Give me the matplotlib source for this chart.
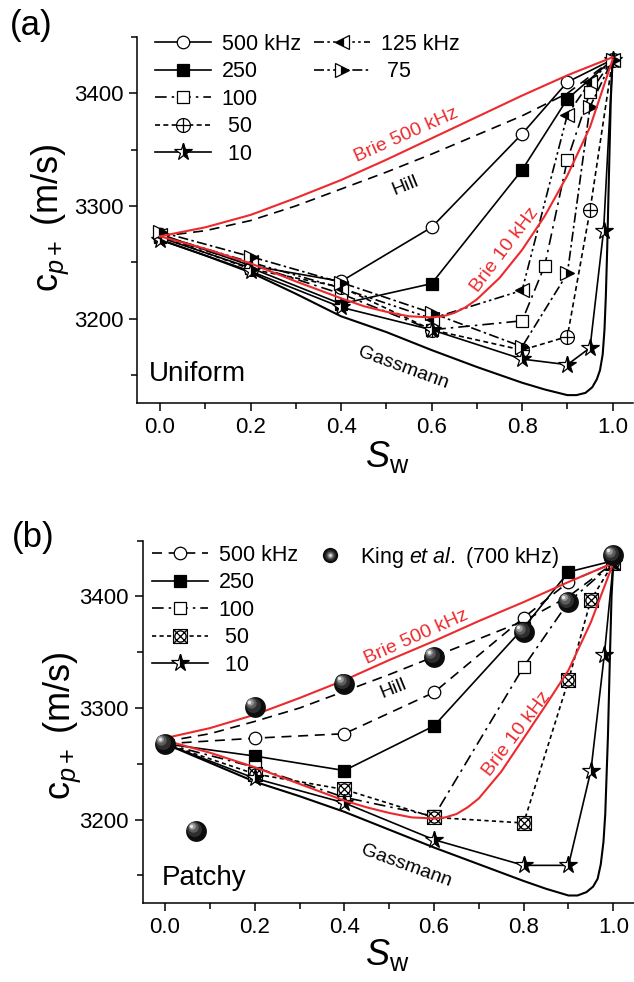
import matplotlib
matplotlib.use("Agg")
import matplotlib.pyplot as plt
from matplotlib.path import Path
from matplotlib.transforms import offset_copy
from matplotlib.ticker import MultipleLocator

plt.rcParams['font.family'] = ['Liberation Sans', 'DejaVu Sans']
plt.rcParams['mathtext.fontset'] = 'custom'
plt.rcParams['mathtext.rm'] = 'Liberation Sans'
plt.rcParams['mathtext.it'] = 'Liberation Sans:italic'
plt.rcParams['mathtext.bf'] = 'Liberation Sans:bold'

RED = '#ec2a2e'

# ---------------- (a) uniform saturation ----------------
a500_x = [0.0, 0.2, 0.4, 0.6, 0.8, 0.9, 1.0]
a500 = [3275, 3247, 3233, 3281, 3364, 3410, 3430]
a250_x = [0.0, 0.2, 0.4, 0.6, 0.8, 0.9, 1.0]
a250 = [3272, 3245, 3213, 3231, 3332, 3395, 3430]
a125_x = [0.0, 0.2, 0.4, 0.6, 0.8, 0.9, 0.95, 1.0]
a125 = [3274, 3250, 3227, 3200, 3225, 3381, 3410, 3430]
a75_x = [0.0, 0.2, 0.4, 0.6, 0.8, 0.9, 0.95, 1.0]
a75 = [3277, 3255, 3232, 3205, 3175, 3240, 3388, 3430]
a100_x = [0.0, 0.2, 0.4, 0.6, 0.8, 0.85, 0.9, 0.95, 1.0]
a100 = [3273, 3248, 3222, 3190, 3198, 3247, 3341, 3401, 3430]
a50_x = [0.0, 0.2, 0.4, 0.6, 0.8, 0.9, 0.95, 1.0]
a50 = [3273, 3244, 3228, 3190, 3172, 3184, 3296, 3430]
a10_x = [0.0, 0.2, 0.4, 0.6, 0.8, 0.9, 0.95, 0.98, 1.0]
a10 = [3270, 3242, 3210, 3190, 3164, 3159, 3174, 3278, 3430]

# model curves
curve_x = [0.0, 0.1, 0.2, 0.3, 0.4, 0.5, 0.6, 0.7, 0.8, 0.9, 1.0]
a_brie500 = [3273, 3281, 3292, 3307, 3323, 3341, 3360, 3379, 3398, 3416, 3432]
a_hill = [3273, 3278, 3287, 3300, 3315, 3330, 3346, 3363, 3380, 3400, 3430]
brie10_x = [0.0, 0.1, 0.2, 0.3, 0.4, 0.45, 0.5, 0.55, 0.6, 0.625, 0.65, 0.675, 0.7,
            0.75, 0.8, 0.85, 0.9, 0.95, 1.0]
a_brie10 = [3273, 3262, 3249, 3233, 3218, 3211, 3206, 3202, 3201, 3202, 3205, 3210, 3217,
            3236, 3261, 3291, 3327, 3370, 3430]
gass_x = [0.0, 0.1, 0.2, 0.3, 0.4, 0.5, 0.6, 0.7, 0.8, 0.85, 0.9, 0.92, 0.94, 0.955, 0.965,
          0.972, 0.978, 0.982, 0.985, 0.988, 0.992, 0.996, 1.0]
a_gass = [3270, 3256, 3241, 3222, 3202, 3188, 3172, 3157, 3143, 3137, 3132, 3132, 3134, 3139, 3146,
          3154, 3168, 3190, 3220, 3262, 3330, 3395, 3430]

# ---------------- (b) patchy saturation ----------------
b500_x = [0.0, 0.2, 0.4, 0.6, 0.8, 0.9, 1.0]
b500 = [3268, 3273, 3277, 3314, 3381, 3413, 3430]
b250_x = [0.0, 0.2, 0.4, 0.6, 0.8, 0.9, 1.0]
b250 = [3268, 3257, 3244, 3284, 3372, 3422, 3432]
b100_x = [0.0, 0.2, 0.4, 0.6, 0.8, 0.9, 1.0]
b100 = [3268, 3247, 3220, 3203, 3337, 3395, 3430]
b50_x = [0.0, 0.2, 0.4, 0.6, 0.8, 0.9, 0.95, 1.0]
b50 = [3268, 3241, 3227, 3202, 3197, 3325, 3397, 3430]
b10_x = [0.0, 0.2, 0.4, 0.6, 0.8, 0.9, 0.95, 0.98, 1.0]
b10 = [3268, 3237, 3215, 3182, 3159, 3159, 3244, 3348, 3430]
king_x = [0.0, 0.07, 0.2, 0.4, 0.6, 0.8, 0.9, 1.0]
king = [3268, 3190, 3301, 3322, 3346, 3368, 3395, 3437]

b_brie500 = [3273, 3282, 3294, 3309, 3325, 3343, 3360, 3378, 3395, 3413, 3430]
b_hill = [3270, 3277, 3288, 3300, 3315, 3330, 3346, 3362, 3378, 3400, 3430]
b_brie10 = [3271, 3260, 3247, 3232, 3217, 3211, 3206, 3202, 3201, 3202, 3205, 3211, 3219,
            3243, 3273, 3303, 3334, 3377, 3430]
b_gass = [3268, 3251, 3234, 3221, 3207, 3191, 3175, 3160, 3145, 3138, 3132, 3132, 3135, 3140, 3147,
          3160, 3180, 3205, 3240, 3275, 3340, 3400, 3430]

# ---------------- custom markers ----------------
M, L = Path.MOVETO, Path.LINETO
oplus = Path.make_compound_path(
    Path.circle((0, 0), 1.0),
    Path([(-1, 0), (1, 0), (0, -1), (0, 1)], [M, L, M, L]))
boxx = Path.make_compound_path(
    Path([(-1, -1), (1, -1), (1, 1), (-1, 1), (-1, -1)], [M, L, L, L, Path.CLOSEPOLY]),
    Path([(-1, -1), (1, 1), (-1, 1), (1, -1)], [M, L, M, L]),
    Path.circle((0, 0), 0.8))

lw = 1.2
common = dict(color='k', lw=lw, mew=0.9, mec='k')


def star(ax, x, y, ls):
    return ax.plot(x, y, ls=ls, marker='*', ms=13, mfc='k', fillstyle='right',
                   markerfacecoloralt='white', **common)[0]


def balls(ax, x, y, ms=15, z=6):
    # glossy sphere: dark disc plus lighter discs shifted to the upper left
    layers = [(1.0, 0.0, '#0d0d0d'), (0.72, 0.10, '#2e2e2e'), (0.5, 0.17, '#5c5c5c'),
              (0.32, 0.22, '#9a9a9a'), (0.16, 0.25, '#e8e8e8')]
    hs = []
    for i, (f, off, c) in enumerate(layers):
        tr = offset_copy(ax.transData, fig=ax.figure, x=-ms * off, y=ms * off, units='points')
        hs.append(ax.plot(x, y, 'o', ms=ms * f, mfc=c, mec='none', transform=tr,
                          zorder=z + i * 0.01)[0])
    return hs


def style_axes(ax):
    ax.set_xlim(-0.05, 1.045)
    ax.set_ylim(3125, 3450)
    ax.spines['top'].set_visible(False)
    ax.spines['right'].set_visible(False)
    for s in ('left', 'bottom'):
        ax.spines[s].set_linewidth(1.1)
    ax.xaxis.set_major_locator(MultipleLocator(0.2))
    ax.xaxis.set_minor_locator(MultipleLocator(0.1))
    ax.yaxis.set_major_locator(MultipleLocator(100))
    ax.yaxis.set_minor_locator(MultipleLocator(50))
    ax.xaxis.set_major_formatter(matplotlib.ticker.FormatStrFormatter('%.1f'))
    ax.tick_params(which='major', direction='out', length=6, width=1.1, labelsize=16, pad=4)
    ax.tick_params(which='minor', direction='out', length=4, width=1.1)


def label(ax, x, y, s, rot, color='k'):
    ax.text(x, y, s, color=color, fontsize=14, rotation=rot,
            ha='center', va='center', rotation_mode='anchor')


fig = plt.figure(figsize=(6.34, 9.82), dpi=100)
W, H = 634, 982

legkw = dict(frameon=False, fontsize=15.5, handlelength=2.6, handletextpad=0.5,
             labelspacing=0.3, borderpad=0, borderaxespad=0, loc='upper left',
             bbox_transform=fig.transFigure)

# ===== panel (a) =====
ax = fig.add_axes([137.4 / W, 1 - 403 / H, (633 - 137.4) / W, 366 / H])
style_axes(ax)
ax.plot(curve_x, a_hill, color='k', lw=lw, ls=(0, (6, 4)))
ax.plot(gass_x, a_gass, color='k', lw=1.5)
ha500 = ax.plot(a500_x, a500, ls='-', marker='o', ms=9, mfc='white', **common)[0]
ha250 = ax.plot(a250_x, a250, ls='-', marker='s', ms=8, mfc='k', **common)[0]
ha100 = ax.plot(a100_x, a100, ls=(0, (7, 3, 1.5, 3)), marker='s', ms=9, mfc='white', **common)[0]
ha50 = ax.plot(a50_x, a50, ls=(0, (3, 2)), marker=oplus, ms=10, mfc='white', **common)[0]
ha10 = star(ax, a10_x, a10, '-')
ha125 = ax.plot(a125_x, a125, ls=(0, (6, 2, 1.5, 2, 1.5, 2)), marker='<', ms=10, mfc='k',
                fillstyle='left', markerfacecoloralt='white', **common)[0]
ha75 = ax.plot(a75_x, a75, ls=(0, (6, 2, 1.5, 2)), marker='>', ms=10, mfc='k',
               fillstyle='right', markerfacecoloralt='white', **common)[0]
ax.plot(curve_x, a_brie500, color=RED, lw=1.5, zorder=5)
ax.plot(brie10_x, a_brie10, color=RED, lw=1.5, zorder=5)

label(ax, 0.545, 3363, 'Brie 500 kHz', 24, RED)
label(ax, 0.541, 3318, 'Hill', 22)
label(ax, 0.762, 3261, 'Brie 10 kHz', 53, RED)
label(ax, 0.537, 3156, 'Gassmann', -20)
ax.text(-0.025, 3151, 'Uniform', fontsize=20, ha='left', va='center')

leg1 = ax.legend([ha500, ha250, ha100, ha50, ha10], ['500 kHz', '250', '100', ' 50', ' 10'],
                 bbox_to_anchor=(155 / W, 1 - 34 / H), **legkw)
ax.add_artist(leg1)
ax.legend([ha125, ha75], ['125 kHz', ' 75'], bbox_to_anchor=(314 / W, 1 - 34 / H), **legkw)

fig.text(10 / W, 1 - 25 / H, '(a)', fontsize=25, ha='left', va='center')
fig.text(50 / W, 1 - 218 / H, r'$\mathrm{c}_{p+}$ (m/s)', fontsize=26, rotation=90,
         ha='center', va='center')
fig.text(387 / W, 1 - 467 / H, r'$S_{\mathrm{w}}$', fontsize=26, ha='center', va='baseline')

# ===== panel (b) =====
bx = fig.add_axes([142.6 / W, 1 - 903.3 / H, (633.5 - 142.6) / W, 362.6 / H])
style_axes(bx)
bx.plot(curve_x, b_hill, color='k', lw=lw, ls=(0, (6, 4)))
bx.plot(gass_x, b_gass, color='k', lw=1.5)
hb500 = bx.plot(b500_x, b500, ls=(0, (6, 4)), marker='o', ms=9, mfc='white', **common)[0]
hb250 = bx.plot(b250_x, b250, ls='-', marker='s', ms=8, mfc='k', **common)[0]
hb100 = bx.plot(b100_x, b100, ls=(0, (7, 3, 1.5, 3)), marker='s', ms=9, mfc='white', **common)[0]
hb50 = bx.plot(b50_x, b50, ls=(0, (2.5, 2)), marker=boxx, ms=10, mfc='white', **common)[0]
hb10 = star(bx, b10_x, b10, '-')
bx.plot(curve_x, b_brie500, color=RED, lw=1.5, zorder=5)
bx.plot(brie10_x, b_brie10, color=RED, lw=1.5, zorder=5)
balls(bx, king_x, king)

label(bx, 0.561, 3364, 'Brie 500 kHz', 24, RED)
label(bx, 0.51, 3317, 'Hill', 22)
label(bx, 0.785, 3277, 'Brie 10 kHz', 53, RED)
label(bx, 0.539, 3158, 'Gassmann', -20)
bx.text(-0.007, 3148, 'Patchy', fontsize=20, ha='left', va='center')

leg3 = bx.legend([hb500, hb250, hb100, hb50, hb10], ['500 kHz', '250', '100', ' 50', ' 10'],
                 bbox_to_anchor=(152 / W, 1 - 545 / H), **legkw)
bx.add_artist(leg3)

# legend key for the King et al. spheres (smaller, off-axes dummy)
king_key = balls(bx, [-1.0], [3300], ms=11)
kingkw = dict(legkw)
kingkw['handlelength'] = 1.0
kingkw['handletextpad'] = 0.9
bx.legend([tuple(king_key)], [r'King $\mathit{et\ al.}$ (700 kHz)'],
          bbox_to_anchor=(319 / W, 1 - 545 / H), **kingkw)

fig.text(12 / W, 1 - 537 / H, '(b)', fontsize=25, ha='left', va='center')
fig.text(62 / W, 1 - 726 / H, r'$\mathrm{c}_{p+}$ (m/s)', fontsize=26, rotation=90,
         ha='center', va='center')
fig.text(387 / W, 1 - 965 / H, r'$S_{\mathrm{w}}$', fontsize=26, ha='center', va='baseline')

fig.savefig('out.png', dpi=100)
plt.close(fig)
